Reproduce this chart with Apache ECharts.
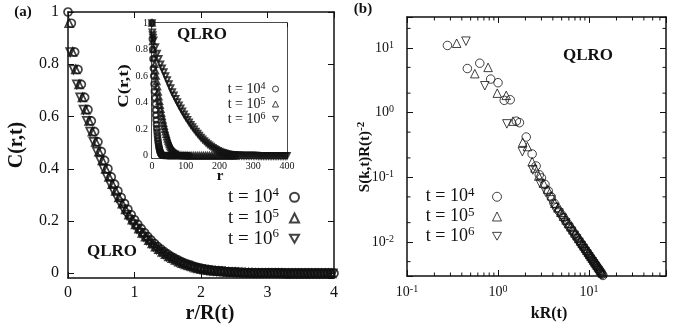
<!DOCTYPE html>
<html>
<head>
<meta charset="utf-8">
<script src="https://cdn.jsdelivr.net/npm/echarts@6/dist/echarts.min.js"></script>
<style>
html, body { margin: 0; padding: 0; background: #fff; }
#chart { width: 682px; height: 327px; }
</style>
</head>
<body>
<div id="chart"></div>
<script>
// (a) scaled correlation function, C(r,t) vs r/R(t)
var xMain4 = [
  0, 0.05, 0.1, 0.15, 0.2, 0.25, 0.3, 0.35, 0.4, 0.45,
  0.5, 0.55, 0.6, 0.65, 0.7, 0.75, 0.8, 0.85, 0.9, 0.95,
  1, 1.05, 1.1, 1.15, 1.2, 1.25, 1.3, 1.35, 1.4, 1.45,
  1.5, 1.55, 1.6, 1.65, 1.7, 1.75, 1.8, 1.85, 1.9, 1.95,
  2, 2.05, 2.1, 2.15, 2.2, 2.25, 2.3, 2.35, 2.4, 2.45,
  2.5, 2.55, 2.6, 2.65, 2.7, 2.75, 2.8, 2.85, 2.9, 2.95,
  3, 3.05, 3.1, 3.15, 3.2, 3.25, 3.3, 3.35, 3.4, 3.45,
  3.5, 3.55, 3.6, 3.65, 3.7, 3.75, 3.8, 3.85, 3.9, 3.95, 4
];
var xMain5 = [
  0.017, 0.067, 0.117, 0.167, 0.217, 0.267, 0.317, 0.367, 0.417, 0.467,
  0.517, 0.567, 0.617, 0.667, 0.717, 0.767, 0.817, 0.867, 0.917, 0.967,
  1.017, 1.067, 1.117, 1.167, 1.217, 1.267, 1.317, 1.367, 1.417, 1.467,
  1.517, 1.567, 1.617, 1.667, 1.717, 1.767, 1.817, 1.867, 1.917, 1.967,
  2.017, 2.067, 2.117, 2.167, 2.217, 2.267, 2.317, 2.367, 2.417, 2.467,
  2.517, 2.567, 2.617, 2.667, 2.717, 2.767, 2.817, 2.867, 2.917, 2.967,
  3.017, 3.067, 3.117, 3.167, 3.217, 3.267, 3.317, 3.367, 3.417, 3.467,
  3.517, 3.567, 3.617, 3.667, 3.717, 3.767, 3.817, 3.867, 3.917, 3.967
];
var xMain6 = [
  0.033, 0.083, 0.133, 0.183, 0.233, 0.283, 0.333, 0.383, 0.433, 0.483,
  0.533, 0.583, 0.633, 0.683, 0.733, 0.783, 0.833, 0.883, 0.933, 0.983,
  1.033, 1.083, 1.133, 1.183, 1.233, 1.283, 1.333, 1.383, 1.433, 1.483,
  1.533, 1.583, 1.633, 1.683, 1.733, 1.783, 1.833, 1.883, 1.933, 1.983,
  2.033, 2.083, 2.133, 2.183, 2.233, 2.283, 2.333, 2.383, 2.433, 2.483,
  2.533, 2.583, 2.633, 2.683, 2.733, 2.783, 2.833, 2.883, 2.933, 2.983,
  3.033, 3.083, 3.133, 3.183, 3.233, 3.283, 3.333, 3.383, 3.433, 3.483,
  3.533, 3.583, 3.633, 3.683, 3.733, 3.783, 3.833, 3.883, 3.933, 3.983
];
var cMain4 = [
  1.000, 0.957, 0.847, 0.780, 0.723, 0.673, 0.626, 0.583, 0.542, 0.503,
  0.466, 0.432, 0.400, 0.369, 0.341, 0.315, 0.290, 0.267, 0.245, 0.224,
  0.205, 0.187, 0.171, 0.155, 0.140, 0.127, 0.114, 0.102, 0.092, 0.082,
  0.073, 0.065, 0.058, 0.051, 0.045, 0.039, 0.034, 0.030, 0.026, 0.022,
  0.019, 0.016, 0.014, 0.012, 0.010, 0.009, 0.008, 0.007, 0.006, 0.005,
  0.004, 0.004, 0.003, 0.003, 0.002, 0.002, 0.002, 0.001, 0.001, 0.001,
  0.001, 0.001, 0.001, 0.001, 0.001, 0.001, 0, 0, 0, 0,
  0, 0, 0, 0, 0, 0, 0, 0, 0, 0, 0
];
var cMain5 = [
  0.957, 0.847, 0.780, 0.723, 0.673, 0.626, 0.583, 0.542, 0.503, 0.466,
  0.432, 0.400, 0.369, 0.341, 0.315, 0.290, 0.267, 0.245, 0.224, 0.205,
  0.187, 0.171, 0.155, 0.140, 0.127, 0.114, 0.102, 0.092, 0.082, 0.073,
  0.065, 0.058, 0.051, 0.045, 0.039, 0.034, 0.030, 0.026, 0.022, 0.019,
  0.016, 0.014, 0.012, 0.010, 0.009, 0.008, 0.007, 0.006, 0.005, 0.004,
  0.004, 0.003, 0.003, 0.002, 0.002, 0.002, 0.001, 0.001, 0.001, 0.001,
  0.001, 0.001, 0.001, 0.001, 0.001, 0, 0, 0, 0, 0,
  0, 0, 0, 0, 0, 0, 0, 0, 0, 0
];
var cMain6 = [
  0.847, 0.780, 0.723, 0.673, 0.626, 0.583, 0.542, 0.503, 0.466, 0.432,
  0.400, 0.369, 0.341, 0.315, 0.290, 0.267, 0.245, 0.224, 0.205, 0.187,
  0.171, 0.155, 0.140, 0.127, 0.114, 0.102, 0.092, 0.082, 0.073, 0.065,
  0.058, 0.051, 0.045, 0.039, 0.034, 0.030, 0.026, 0.022, 0.019, 0.016,
  0.014, 0.012, 0.010, 0.009, 0.008, 0.007, 0.006, 0.005, 0.004, 0.004,
  0.003, 0.003, 0.002, 0.002, 0.002, 0.001, 0.001, 0.001, 0.001, 0.001,
  0.001, 0.001, 0.001, 0.001, 0, 0, 0, 0, 0, 0,
  0, 0, 0, 0, 0, 0, 0, 0, 0, 0
];

// (a) inset, unscaled C(r,t) vs r
var rIn4 = [
  0, 1, 2, 3, 4, 5, 6, 7, 8, 9, 10, 11, 12, 13, 14, 15, 16, 17, 18, 19,
  20, 21, 22, 23, 24, 25, 26, 27, 28, 29, 30,
  34, 38, 42, 46, 50, 54, 58, 62, 66, 70, 74, 78, 82, 86, 90, 94, 98, 102, 106, 110
];
var cIn4 = [
  1.0, 0.88, 0.80, 0.73, 0.66, 0.60, 0.54, 0.485, 0.435, 0.39,
  0.345, 0.305, 0.27, 0.235, 0.205, 0.178, 0.153, 0.13, 0.11, 0.092,
  0.076, 0.062, 0.05, 0.04, 0.031, 0.024, 0.018, 0.013, 0.009, 0.006, 0.004,
  0.002, 0.001, 0.001, 0, 0, 0, 0, 0, 0, 0, 0, 0, 0, 0, 0, 0, 0, 0, 0, 0
];
var rIn5 = [
  0, 2, 4, 6, 8, 10, 12, 14, 16, 18, 20, 22, 24, 26, 28, 30, 32, 34, 36, 38,
  40, 42, 44, 46, 48, 50, 52, 54, 56, 58, 60, 62, 64, 66, 68, 70, 72, 74, 76, 78, 80,
  86, 92, 98, 104, 110, 116, 122, 128, 134, 140, 146, 152, 158, 164,
  170, 176, 182, 188, 194, 200, 206, 212, 218, 224, 230, 236, 242, 248
];
var cIn5 = [
  1.0, 0.86, 0.80, 0.74, 0.69, 0.64, 0.60, 0.56, 0.52, 0.48,
  0.445, 0.41, 0.38, 0.35, 0.32, 0.295, 0.27, 0.245, 0.222, 0.20,
  0.18, 0.161, 0.143, 0.127, 0.112, 0.098, 0.085, 0.073, 0.062, 0.053,
  0.045, 0.038, 0.032, 0.026, 0.021, 0.017, 0.013, 0.010, 0.008, 0.006, 0.004,
  0.003, 0.002, 0.001, 0.001, 0, 0, 0, 0, 0, 0, 0, 0, 0, 0,
  0, 0, 0, 0, 0, 0, 0, 0, 0, 0, 0, 0, 0, 0
];
var rIn6 = [
  0, 1, 2, 3, 5, 10, 15, 20, 25, 30, 35, 40, 45, 50, 55, 60, 65, 70, 75, 80,
  85, 90, 95, 100, 105, 110, 115, 120, 125, 130, 135, 140, 145, 150, 155, 160,
  165, 170, 175, 180, 185, 190, 195, 200, 205, 210, 215, 220, 225, 230, 235, 240,
  245, 250, 255, 260, 265, 270, 275, 280, 285, 290, 295, 300, 305, 310, 315, 320,
  325, 330, 335, 340, 345, 350, 355, 360, 365, 370, 375, 380, 385, 390, 395, 400
];
var cIn6 = [
  1.0, 0.93, 0.91, 0.89, 0.87, 0.82, 0.77, 0.73, 0.69, 0.66, 0.63, 0.60, 0.57, 0.54,
  0.51, 0.48, 0.455, 0.43, 0.405, 0.38, 0.357, 0.335, 0.313, 0.292, 0.272, 0.253,
  0.234, 0.216, 0.199, 0.183, 0.167, 0.152, 0.138, 0.125, 0.112, 0.10, 0.089, 0.079,
  0.069, 0.060, 0.052, 0.045, 0.038, 0.032, 0.027, 0.022, 0.018, 0.015, 0.012, 0.010,
  0.008, 0.006, 0.005, 0.004, 0.003, 0.003, 0.002, 0.002, 0.001, 0.001, 0.001, 0.001,
  0.001, 0.001, 0.001, 0.001, 0, 0, 0, 0, 0, 0, 0, 0, 0, 0, 0, 0, 0, 0, 0, 0, 0, 0
];

// (b) scaled structure factor, S(k,t)R(t)^-2 vs kR(t)
var kR4 = [0.278, 0.46, 0.63, 0.83, 1.0, 1.17, 1.36, 1.59, 1.72, 2.04, 2.37, 2.62, 2.84,
  3.0, 3.28, 3.56, 3.84, 4.12, 4.40, 4.68, 4.96, 5.24, 5.52, 5.80, 6.08, 6.36, 6.64, 6.92,
  7.20, 7.48, 7.76, 8.04, 8.32, 8.60, 8.88, 9.16, 9.44, 9.72, 10.0, 10.28, 10.56, 10.84,
  11.12, 11.40, 11.68, 11.96, 12.24, 12.52, 12.80, 13.08, 13.36, 13.64, 13.92, 14.20];
var sk4 = [10.9, 4.8, 5.8, 3.3, 2.9, 1.55, 1.58, 0.74, 0.70, 0.42, 0.23, 0.15, 0.11,
  0.098, 0.078, 0.062, 0.050, 0.040, 0.0341, 0.0301, 0.0267, 0.0238, 0.0214, 0.0193, 0.0175,
  0.0160, 0.0146, 0.0134, 0.0124, 0.0114, 0.0106, 0.00986, 0.00919, 0.00859, 0.00804,
  0.00754, 0.00709, 0.00667, 0.00629, 0.00594, 0.00563, 0.00533, 0.00506, 0.00481,
  0.00457, 0.00435, 0.00415, 0.00396, 0.00379, 0.00362, 0.00347, 0.00332, 0.00318, 0.00306];
var kR5 = [0.351, 0.556, 0.778, 0.98, 1.23, 1.46, 1.87, 2.1, 2.37, 2.55, 2.8,
  3.15, 3.5, 3.85, 4.2, 4.55, 4.9, 5.25, 5.6, 5.95, 6.3, 6.65, 7.0, 7.35, 7.7, 8.05, 8.4,
  8.75, 9.1, 9.45, 9.8, 10.15, 10.5, 10.85, 11.2, 11.55, 11.9, 12.25, 12.6, 12.95, 13.3,
  13.65, 14.0];
var sk5 = [11.8, 4.0, 5.0, 2.0, 1.85, 0.74, 0.35, 0.30, 0.175, 0.14, 0.105,
  0.082, 0.066, 0.052, 0.0398, 0.0338, 0.0290, 0.0251, 0.0220, 0.0194, 0.0173, 0.0155,
  0.0139, 0.0126, 0.0114, 0.0104, 0.00955, 0.00878, 0.00810, 0.00749, 0.00695, 0.00646,
  0.00603, 0.00564, 0.00528, 0.00495, 0.00466, 0.00439, 0.00414, 0.00391, 0.00370,
  0.00351, 0.00333];
var kR6 = [0.444, 0.716, 1.25, 1.85, 2.41, 2.9, 3.34, 3.78, 4.22, 4.66, 5.1, 5.54, 5.98,
  6.42, 6.86, 7.3, 7.74, 8.18, 8.62, 9.06, 9.5, 9.94, 10.38, 10.82, 11.26, 11.7, 12.14,
  12.58, 13.02, 13.46, 13.9, 14.34];
var sk6 = [12.7, 2.6, 0.67, 0.25, 0.13, 0.080, 0.059, 0.045, 0.0346, 0.0282, 0.0234,
  0.0198, 0.0169, 0.0146, 0.0127, 0.0112, 0.00993, 0.00885, 0.00795, 0.00718, 0.00651,
  0.00593, 0.00542, 0.00498, 0.00459, 0.00424, 0.00393, 0.00365, 0.00340, 0.00318,
  0.00297, 0.00279];

var xMinorTicks = [0.2, 0.3, 0.4, 0.5, 0.6, 0.7, 0.8, 0.9, 2, 3, 4, 5, 6, 7, 8, 9, 20, 30, 40, 50, 60];
var yMinorTicks = [0.005, 0.02, 0.05, 0.2, 0.5, 2, 5, 20];
var timeExp = ['4', '5', '6'];

var serif = 'Liberation Serif, DejaVu Serif, serif';
var ink = '#111';
var downTri = 'path://M0,0L10,0L5,8.66Z';
var shapes = ['circle', 'triangle', downTri];

function pairs(xs, ys) {
  return xs.map(function (x, i) { return [x, ys[i]]; });
}
function hollow(w) {
  return { color: 'rgba(0,0,0,0)', borderColor: ink, borderWidth: w };
}

function valAxis(grid, pos, min, max, interval, label, fs, margin) {
  var a = {
    type: 'value', gridIndex: grid, position: pos, min: min, max: max,
    axisLine: { show: true, onZero: false, lineStyle: { color: ink, width: 1.5 } },
    axisTick: { show: true, inside: true, length: fs > 12 ? 6 : 4, lineStyle: { color: ink, width: 1 } },
    splitLine: { show: false },
    axisLabel: { show: label, color: ink, fontFamily: serif, fontSize: fs, margin: margin, showMinLabel: interval != null }
  };
  if (interval != null) a.interval = interval;
  return a;
}

function supLabel(v) {
  var e = Math.round(Math.log10(v));
  if (Math.abs(Math.log10(v) - e) > 1e-6) return '';
  return '{b|10}{s|' + e + '}';
}
var supRich = {
  b: { fontFamily: serif, fontSize: 14, color: ink, lineHeight: 16 },
  s: { fontFamily: serif, fontSize: 10, color: ink, lineHeight: 10, verticalAlign: 'top' }
};

function logAxis(grid, pos, min, max, label, margin) {
  return {
    type: 'log', logBase: 10, gridIndex: grid, position: pos, min: min, max: max,
    axisLine: { show: true, onZero: false, lineStyle: { color: ink, width: 1.5 } },
    axisTick: { show: true, inside: true, length: 6, lineStyle: { color: ink, width: 1 } },
    splitLine: { show: false },
    axisLabel: { show: label, margin: margin, formatter: supLabel, rich: supRich }
  };
}

// log minor ticks (2..9 on x, 2 and 5 on y), placed through the log axes
function minorTickSeries(vals, isX) {
  return {
    type: 'custom', xAxisIndex: 4, yAxisIndex: 4, silent: true, clip: false, z: 5,
    data: vals.map(function (v) { return isX ? [v, 1] : [1, v]; }),
    renderItem: function (params, api) {
      var cs = params.coordSys;
      var st = { stroke: ink, lineWidth: 1 };
      var len = 3.5;
      if (isX) {
        var px = api.coord([api.value(0), 1])[0];
        return { type: 'group', children: [
          { type: 'line', shape: { x1: px, y1: cs.y + cs.height, x2: px, y2: cs.y + cs.height - len }, style: st },
          { type: 'line', shape: { x1: px, y1: cs.y, x2: px, y2: cs.y + len }, style: st }
        ] };
      }
      var py = api.coord([1, api.value(1)])[1];
      return { type: 'group', children: [
        { type: 'line', shape: { x1: cs.x, y1: py, x2: cs.x + len, y2: py }, style: st },
        { type: 'line', shape: { x1: cs.x + cs.width, y1: py, x2: cs.x + cs.width - len, y2: py }, style: st }
      ] };
    }
  };
}

function legendBox(names, right, top, fs, sfs, lh, gap, size, bw) {
  return {
    data: names, orient: 'vertical', right: right, top: top, padding: 0,
    align: 'right', itemGap: 0, itemWidth: size, itemHeight: size, selectedMode: false,
    itemStyle: { borderWidth: bw },
    formatter: function (name) {
      return '{b|t = 10}{s|' + name.slice(-1) + '}';
    },
    textStyle: {
      rich: {
        b: { fontFamily: serif, fontSize: fs, color: ink, lineHeight: lh },
        s: { fontFamily: serif, fontSize: sfs, color: ink, lineHeight: sfs, verticalAlign: 'top', padding: [0, gap, 0, 0] }
      }
    }
  };
}

var mainX = [xMain4, xMain5, xMain6];
var mainC = [cMain4, cMain5, cMain6];
var inR = [rIn4, rIn5, rIn6];
var inC = [cIn4, cIn5, cIn6];
var bK = [kR4, kR5, kR6];
var bS = [sk4, sk5, sk6];

var series = [];
for (var i = 0; i < 3; i++) {
  series.push({
    name: 'a' + timeExp[i], type: 'scatter', xAxisIndex: 0, yAxisIndex: 0,
    symbol: shapes[i], symbolSize: 8, itemStyle: hollow(1.7),
    data: pairs(mainX[i], mainC[i])
  });
  series.push({
    name: 'i' + timeExp[i], type: 'scatter', xAxisIndex: 2, yAxisIndex: 2,
    symbol: shapes[i], symbolSize: 5.5, itemStyle: hollow(2), z: 4,
    data: pairs(inR[i], inC[i])
  });
  series.push({
    name: 'b' + timeExp[i], type: 'scatter', xAxisIndex: 4, yAxisIndex: 4,
    symbol: shapes[i], symbolSize: 8.5, itemStyle: hollow(1),
    data: pairs(bK[i], bS[i])
  });
}
series.push(minorTickSeries(xMinorTicks, true));
series.push(minorTickSeries(yMinorTicks, false));

function label(text, x, y, size, rot, stretch) {
  return {
    type: 'text', x: x, y: y, rotation: rot ? Math.PI / 2 : 0, scaleX: stretch || 1, z: 10,
    style: { text: text, fontFamily: serif, fontWeight: 'bold', fontSize: size, fill: ink, align: 'center', verticalAlign: 'middle' }
  };
}

var option = {
  animation: false,
  backgroundColor: '#fff',
  grid: [
    { left: 68, top: 12, width: 266, height: 266 },
    { left: 152, top: 23, width: 135, height: 135, show: true, backgroundColor: '#fff', borderWidth: 0, z: 3 },
    { left: 407, top: 17, width: 259, height: 259 }
  ],
  xAxis: [
    valAxis(0, 'bottom', 0, 4, 1, true, 16, 7),
    valAxis(0, 'top', 0, 4, 1, false, 16, 7),
    valAxis(1, 'bottom', 0, 400, 100, true, 10, 3),
    valAxis(1, 'top', 0, 400, 100, false, 10, 3),
    logAxis(2, 'bottom', 0.1, 70, true, 8),
    logAxis(2, 'top', 0.1, 70, false, 8)
  ],
  yAxis: [
    valAxis(0, 'left', -0.018, 1, null, true, 16, 9),
    valAxis(0, 'right', -0.018, 1, null, false, 16, 9),
    valAxis(1, 'left', -0.017, 1, null, true, 10, 4),
    valAxis(1, 'right', -0.017, 1, null, false, 10, 4),
    logAxis(2, 'left', 0.003, 30, true, 13),
    logAxis(2, 'right', 0.003, 30, false, 13)
  ],
  legend: [
    legendBox(['a4', 'a5', 'a6'], 382, 186, 19, 13, 22.5, 6, 9, 2),
    legendBox(['i4', 'i5', 'i6'], 403, 81, 14, 10, 16, 2, 6, 1),
    legendBox(['b4', 'b5', 'b6'], 180, 186, 18, 13, 21.5, 13, 9, 1)
  ],
  graphic: [
    label('(a)', 23, 12, 15),
    label('(b)', 363, 9, 15),
    label('C(r,t)', 17, 145, 20, true),
    label('r/R(t)', 210, 314, 20),
    label('QLRO', 112, 252, 17),
    label('QLRO', 202, 35, 17),
    label('C(r,t)', 124, 86, 15, true, 1.25),
    label('r', 220, 176, 15),
    label('QLRO', 588, 56, 17),
    label('kR(t)', 549, 314, 16),
    {
      type: 'text', x: 365, y: 157, rotation: Math.PI / 2, z: 10,
      style: {
        text: '{b|S(k,t)R(t)}{s|-2}', align: 'center', verticalAlign: 'middle',
        rich: {
          b: { fontFamily: serif, fontWeight: 'bold', fontSize: 15, fill: ink, lineHeight: 18 },
          s: { fontFamily: serif, fontWeight: 'bold', fontSize: 11, fill: ink, lineHeight: 11, verticalAlign: 'top' }
        }
      }
    }
  ],
  series: series
};

var chart = echarts.init(document.getElementById('chart'), null, { renderer: 'canvas' });
chart.setOption(option);
</script>
</body>
</html>
